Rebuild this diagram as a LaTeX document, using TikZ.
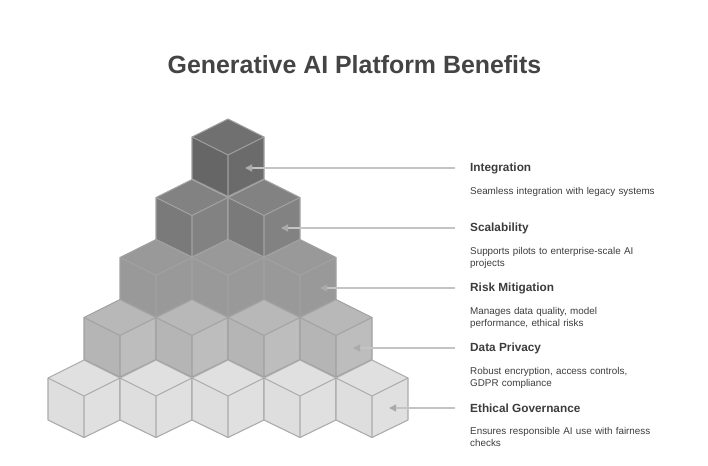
\documentclass[tikz,border=0pt]{standalone}
\usepackage{fontspec}
\setmainfont{Liberation Sans}
\usetikzlibrary{arrows.meta}

\definecolor{titlegray}{HTML}{444444}
\definecolor{textgray}{HTML}{3C3C3C}
\definecolor{leadgray}{HTML}{C4C4C4}
\definecolor{tipgray}{HTML}{ABABAB}

% one cube: front corner at (#1,#2), top, left and right face, edges
\newcommand{\drawcube}[6]{
\fill [#3] (#1,#2) -- (#1-36,#2+18) -- (#1,#2+36) -- (#1+36,#2+18) -- cycle;
\fill [#4] (#1,#2) -- (#1-36,#2+18) -- (#1-36,#2-24) -- (#1,#2-41.5) -- cycle;
\fill [#5] (#1,#2) -- (#1+36,#2+18) -- (#1+36,#2-24) -- (#1,#2-41.5) -- cycle;
\draw [#6, line width=1.1pt, line join=round] (#1,#2+36) -- (#1+36,#2+18) -- (#1+36,#2-24) -- (#1,#2-41.5) -- (#1-36,#2-24) -- (#1-36,#2+18) -- cycle;
\draw [#6, line width=1.1pt, line join=round] (#1-36,#2+18) -- (#1,#2) -- (#1+36,#2+18) (#1,#2) -- (#1,#2-41.5);
}

\tikzset{
  leader/.style={draw=leadgray, line width=1.4pt, shorten <=15pt, -{Triangle[length=7pt,width=7pt,color=tipgray]}},
  heading/.style={anchor=west, inner sep=0pt, font=\fontsize{11.8}{14}\selectfont\bfseries, text=textgray},
  note/.style={anchor=north west, inner sep=0pt, align=left, text width=225pt, font=\fontsize{9.85}{12.6}\selectfont, text=textgray},
}

\begin{document}
\begin{tikzpicture}[x=1pt,y=1pt]
\useasboundingbox (0,0) rectangle (708,-465);
\node [inner sep=0pt, text=titlegray, font=\fontsize{24.9}{30}\selectfont\bfseries] (title) at (354.5,-65) {Generative AI Platform Benefits};

% cubes, upper rows first
\foreach \x in {228} {\drawcube{\x}{-155}{black!56}{black!60}{black!58}{black!38}}
\foreach \x in {192,264} {\drawcube{\x}{-215.5}{black!49}{black!52}{black!49}{black!36}}
\foreach \x in {156,228,300} {\drawcube{\x}{-275.5}{black!40}{black!40}{black!40}{black!37}}
\foreach \x in {120,192,264,336} {\drawcube{\x}{-335.5}{black!28}{black!29}{black!26}{black!37}}
\foreach \x in {84,156,228,300,372} {\drawcube{\x}{-396}{black!12}{black!13}{black!12}{black!33}}

% free ends of the leaders
\coordinate (tipA) at (245,-168);
\coordinate (tipB) at (281,-228);
\coordinate (tipC) at (320,-288);
\coordinate (tipD) at (353,-348);
\coordinate (tipE) at (389,-408);

\node [heading] (integration) at (470,-168.5) {Integration};
\node [note] (integrationnote) at (470,-187.5) {Seamless integration with legacy systems};
\node [heading] (scalability) at (470,-228.5) {Scalability};
\node [note] (scalabilitynote) at (470,-247) {Supports pilots to enterprise-scale AI\\projects};
\node [heading] (risk) at (470,-288.5) {Risk Mitigation};
\node [note] (risknote) at (470,-307) {Manages data quality, model\\performance, ethical risks};
\node [heading] (privacy) at (470,-348.5) {Data Privacy};
\node [note] (privacynote) at (470,-367) {Robust encryption, access controls,\\GDPR compliance};
\node [heading] (governance) at (470,-408.5) {Ethical Governance};
\node [note] (governancenote) at (470,-427) {Ensures responsible AI use with fairness\\checks};

\draw [leader] (tipA -| integration.west) -- (tipA);
\draw [leader] (tipB -| scalability.west) -- (tipB);
\draw [leader] (tipC -| risk.west) -- (tipC);
\draw [leader] (tipD -| privacy.west) -- (tipD);
\draw [leader] (tipE -| governance.west) -- (tipE);
\end{tikzpicture}
\end{document}
